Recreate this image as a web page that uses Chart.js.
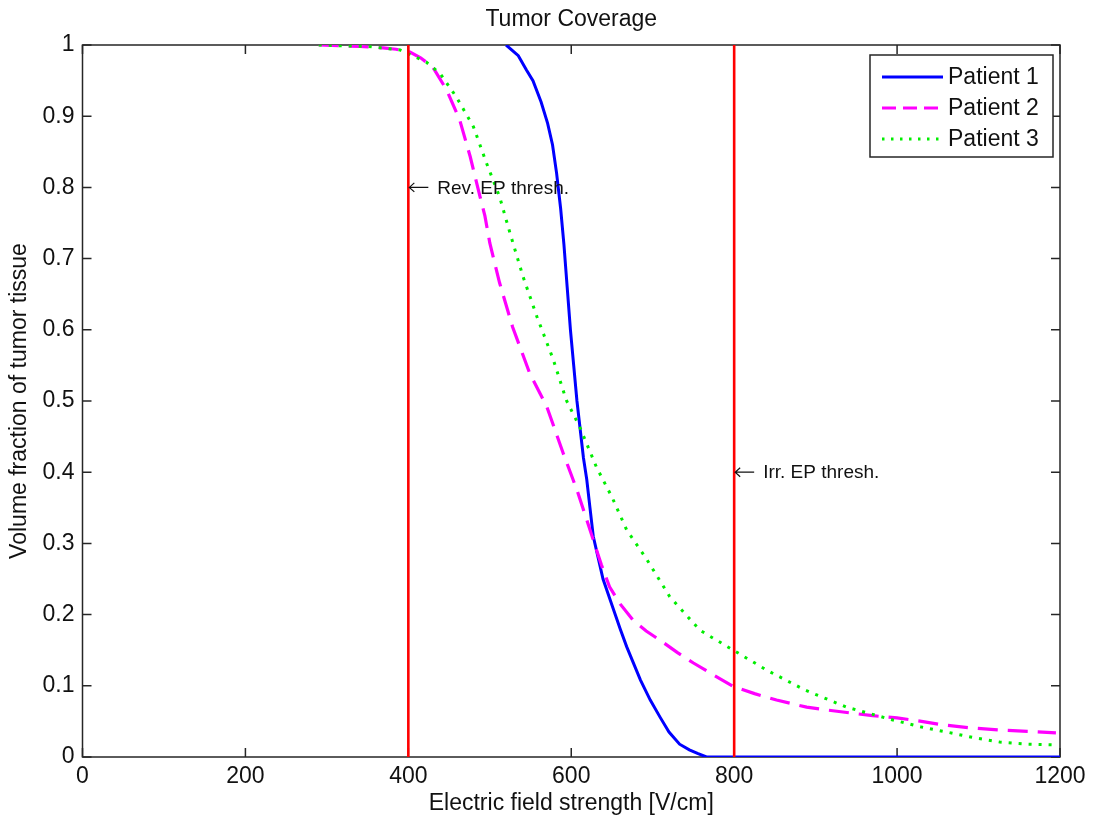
<!DOCTYPE html>
<html>
<head>
<meta charset="utf-8">
<script src="https://cdn.jsdelivr.net/npm/chart.js@4.4.1/dist/chart.umd.min.js"></script>
<style>
  html, body { margin: 0; padding: 0; background: #ffffff; }
  canvas { display: block; }
</style>
</head>
<body>
<canvas id="chart" width="1095" height="821"></canvas>
<script>
// Cumulative tumour volume fraction exposed to at least a given field strength
const patient1Field = [520, 535, 545, 553, 563, 571, 577, 582, 587, 591, 595, 599, 603, 607, 611, 615, 619, 623, 627, 633, 639, 645, 651, 660, 668, 677, 685, 697, 709, 720, 733, 745, 755, 766, 800, 1200];
const patient1Fraction = [1.0, 0.985, 0.965, 0.95, 0.92, 0.89, 0.86, 0.82, 0.77, 0.72, 0.66, 0.60, 0.55, 0.50, 0.46, 0.42, 0.39, 0.35, 0.31, 0.28, 0.25, 0.23, 0.21, 0.18, 0.155, 0.13, 0.108, 0.08, 0.056, 0.035, 0.018, 0.01, 0.005, 0, 0, 0];

const patient2Field = [290, 316, 340, 369, 385, 402, 415, 430, 447, 463, 476, 488, 494, 500, 512, 528, 549, 570, 590, 607, 617, 627, 637, 647, 660, 676, 692, 709, 730, 750, 775, 799, 825, 852, 889, 914, 942, 970, 1000, 1030, 1057, 1090, 1126, 1160, 1195];
const patient2Fraction = [1.0, 0.999, 0.998, 0.996, 0.994, 0.99, 0.982, 0.969, 0.937, 0.895, 0.843, 0.787, 0.76, 0.722, 0.666, 0.604, 0.539, 0.492, 0.427, 0.375, 0.34, 0.305, 0.27, 0.239, 0.215, 0.192, 0.177, 0.164, 0.147, 0.132, 0.115, 0.099, 0.089, 0.080, 0.070, 0.066, 0.062, 0.058, 0.055, 0.050, 0.045, 0.041, 0.038, 0.036, 0.034];

const patient3Field = [290, 316, 350, 390, 422, 439, 459, 480, 496, 512, 525, 541, 558, 578, 594, 611, 631, 650, 668, 693, 721, 758, 799, 840, 887, 938, 995, 1030, 1061, 1095, 1126, 1160, 1195];
const patient3Fraction = [1.0, 0.999, 0.998, 0.993, 0.976, 0.960, 0.927, 0.885, 0.834, 0.787, 0.735, 0.674, 0.618, 0.558, 0.501, 0.462, 0.407, 0.365, 0.319, 0.277, 0.225, 0.178, 0.150, 0.122, 0.094, 0.070, 0.052, 0.042, 0.035, 0.027, 0.021, 0.018, 0.017];

const seriesLabels = ['Patient 1', 'Patient 2', 'Patient 3'];

// Electroporation thresholds (V/cm) and their annotation texts
const thresholdFields = [400, 800];
const thresholdLabels = ['Rev. EP thresh.', 'Irr. EP thresh.'];
const thresholdLabelLevels = [0.8, 0.4];

const xTickValues = [0, 200, 400, 600, 800, 1000, 1200];
const xTickLabels = ['0', '200', '400', '600', '800', '1000', '1200'];
const yTickValues = [0, 0.1, 0.2, 0.3, 0.4, 0.5, 0.6, 0.7, 0.8, 0.9, 1];
const yTickLabels = ['0', '0.1', '0.2', '0.3', '0.4', '0.5', '0.6', '0.7', '0.8', '0.9', '1'];

const FONT = '"Liberation Sans", Arial, Helvetica, sans-serif';
const INK = '#262626';

function toPoints(xs, ys) {
  return xs.map((x, i) => ({ x: x, y: ys[i] }));
}

const patientStyles = [
  { color: '#0000ff', dash: [], width: 3 },
  { color: '#ff00ff', dash: [20, 10], width: 3.2 },
  { color: '#00ee00', dash: [3, 7], width: 3 }
];
const patientData = [
  toPoints(patient1Field, patient1Fraction),
  toPoints(patient2Field, patient2Fraction),
  toPoints(patient3Field, patient3Fraction)
];

const datasets = [];
patientData.forEach((pts, i) => {
  datasets.push({
    label: seriesLabels[i],
    data: pts,
    borderColor: patientStyles[i].color,
    borderWidth: patientStyles[i].width,
    borderDash: patientStyles[i].dash,
    borderCapStyle: 'butt',
    pointRadius: 0,
    tension: 0,
    fill: false,
    order: 3 - i
  });
});
thresholdFields.forEach((f) => {
  datasets.push({
    label: 'threshold',
    isThreshold: true,
    data: [{ x: f, y: 0 }, { x: f, y: 1 }],
    borderColor: '#ff0000',
    borderWidth: 2.6,
    pointRadius: 0,
    fill: false,
    order: 0
  });
});

// Box frame with inward tick marks on all four sides
const framePlugin = {
  id: 'frame',
  beforeDatasetsDraw(chart) {
    const { ctx, chartArea: a, scales } = chart;
    const len = 9;
    ctx.save();
    ctx.strokeStyle = INK;
    ctx.lineWidth = 1.5;
    ctx.strokeRect(a.left, a.top, a.right - a.left, a.bottom - a.top);
    ctx.beginPath();
    scales.x.ticks.forEach((t) => {
      const px = scales.x.getPixelForValue(t.value);
      ctx.moveTo(px, a.bottom); ctx.lineTo(px, a.bottom - len);
      ctx.moveTo(px, a.top); ctx.lineTo(px, a.top + len);
    });
    scales.y.ticks.forEach((t) => {
      const py = scales.y.getPixelForValue(t.value);
      ctx.moveTo(a.left, py); ctx.lineTo(a.left + len, py);
      ctx.moveTo(a.right, py); ctx.lineTo(a.right - len, py);
    });
    ctx.stroke();
    ctx.restore();
  }
};

// Threshold annotations with a leftward arrow at each red line
const annotationPlugin = {
  id: 'thresholdNotes',
  afterDatasetsDraw(chart) {
    const { ctx, scales } = chart;
    ctx.save();
    ctx.fillStyle = '#111';
    ctx.font = '19px ' + FONT;
    ctx.textAlign = 'left';
    ctx.textBaseline = 'middle';
    thresholdFields.forEach((f, i) => {
      const px = scales.x.getPixelForValue(f);
      const py = scales.y.getPixelForValue(thresholdLabelLevels[i]);
      // arrow
      ctx.strokeStyle = '#111';
      ctx.lineWidth = 1.2;
      ctx.beginPath();
      ctx.moveTo(px + 1, py);
      ctx.lineTo(px + 20, py);
      ctx.moveTo(px + 6, py - 4.5);
      ctx.lineTo(px + 1, py);
      ctx.lineTo(px + 6, py + 4.5);
      ctx.stroke();
      ctx.fillText(thresholdLabels[i], px + 29, py + 1);
    });
    ctx.restore();
  }
};

// Boxed legend in the upper right corner of the plot
const legendPlugin = {
  id: 'boxLegend',
  afterDatasetsDraw(chart) {
    const { ctx, chartArea: a } = chart;
    const items = chart.data.datasets.filter((d) => !d.isThreshold);
    const bx = a.right - 190, by = a.top + 10, bw = 183, bh = 102;
    ctx.save();
    ctx.fillStyle = '#ffffff';
    ctx.fillRect(bx, by, bw, bh);
    ctx.strokeStyle = INK;
    ctx.lineWidth = 1.5;
    ctx.strokeRect(bx, by, bw, bh);
    ctx.font = '23px ' + FONT;
    ctx.textBaseline = 'middle';
    ctx.textAlign = 'left';
    const legendDash = [[], [14, 7], [2.5, 6.5]];
    items.forEach((d, i) => {
      const cy = by + 22 + i * 31;
      ctx.strokeStyle = d.borderColor;
      ctx.lineWidth = d.borderWidth;
      ctx.setLineDash(legendDash[i]);
      ctx.beginPath();
      ctx.moveTo(bx + 12, cy);
      ctx.lineTo(bx + 73, cy);
      ctx.stroke();
      ctx.setLineDash([]);
      ctx.fillStyle = '#111';
      ctx.fillText(d.label, bx + 78, cy + 1);
    });
    ctx.restore();
  }
};

new Chart(document.getElementById('chart'), {
  type: 'line',
  data: { datasets: datasets },
  plugins: [framePlugin, annotationPlugin, legendPlugin],
  options: {
    responsive: false,
    devicePixelRatio: 1,
    animation: false,
    layout: { padding: { top: 0, right: 35, bottom: 0, left: 0 } },
    plugins: {
      legend: { display: false },
      tooltip: { enabled: false },
      title: {
        display: true,
        text: 'Tumor Coverage',
        fullSize: false,
        color: '#111',
        font: { family: FONT, size: 23, weight: 'normal', lineHeight: 1.2 },
        padding: { top: 6, bottom: 11.4 }
      }
    },
    scales: {
      x: {
        type: 'linear',
        min: 0,
        max: 1200,
        afterFit(scale) { scale.height = 64; },
        afterBuildTicks(scale) { scale.ticks = xTickValues.map((v) => ({ value: v })); },
        grid: { display: false, drawTicks: false },
        border: { display: false },
        ticks: {
          color: '#111',
          padding: 6,
          maxRotation: 0,
          font: { family: FONT, size: 23 },
          callback: (v) => xTickLabels[xTickValues.indexOf(v)]
        },
        title: {
          display: true,
          text: 'Electric field strength [V/cm]',
          color: '#111',
          font: { family: FONT, size: 23 },
          padding: { top: 0, bottom: 4 }
        }
      },
      y: {
        type: 'linear',
        min: 0,
        max: 1,
        afterFit(scale) { scale.width = 82.5; },
        afterBuildTicks(scale) { scale.ticks = yTickValues.map((v) => ({ value: v })); },
        grid: { display: false, drawTicks: false },
        border: { display: false },
        ticks: {
          color: '#111',
          padding: 8,
          font: { family: FONT, size: 23 },
          callback: (v) => {
            const idx = yTickValues.findIndex((t) => Math.abs(t - v) < 1e-9);
            return idx >= 0 ? yTickLabels[idx] : '';
          }
        },
        title: {
          display: true,
          text: 'Volume fraction of tumor tissue',
          color: '#111',
          font: { family: FONT, size: 23 },
          padding: { top: 6, bottom: 0 }
        }
      }
    }
  }
});
</script>
</body>
</html>
